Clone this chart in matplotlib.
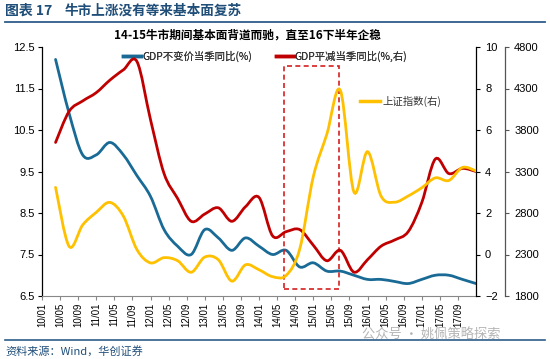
import numpy as np
import matplotlib
matplotlib.use("Agg")
import matplotlib.pyplot as plt
from matplotlib.path import Path
from matplotlib.patches import PathPatch, Rectangle
from matplotlib.lines import Line2D

plt.rcParams["font.family"] = ["Liberation Sans", "Noto Sans CJK SC", "DejaVu Sans"]
CJK = ["Noto Sans CJK SC", "DejaVu Sans"]

# ── data (quarter-end, months counted from 2010-01) ──────────────────────────
months = np.arange(3, 97, 3)
gdp_real = [12.2, 10.9, 9.9, 9.9, 10.2, 9.9, 9.4, 8.9,
            8.1, 7.7, 7.5, 8.1, 7.9, 7.6, 7.9, 7.7,
            7.5, 7.6, 7.2, 7.3, 7.1, 7.1, 7.0, 6.9,
            6.9, 6.85, 6.8, 6.9, 7.0, 7.0, 6.9, 6.8]
gdp_deflator = [5.4, 6.9, 7.4, 7.8, 8.4, 8.9, 9.3, 6.5,
                3.9, 2.7, 1.6, 1.95, 2.25, 1.6, 2.3, 2.75,
                0.9, 1.1, 1.2, 0.45, -0.3, 0.2, -0.85, -0.25,
                0.4, 0.7, 1.1, 2.5, 4.6, 3.9, 4.15, 4.0]
sse_index = [3109, 2398, 2656, 2808, 2928, 2762, 2359, 2199,
             2262, 2225, 2086, 2269, 2237, 1979, 2175, 2116,
             2033, 2048, 2364, 3235, 3748, 4277, 3053, 3539,
             3004, 2930, 3005, 3104, 3223, 3192, 3349, 3307]
tick_labels = [f"{y:02d}/{m:02d}" for y in range(10, 18) for m in (1, 5, 9)]

C_BLUE = "#1A6A96"
C_RED = "#C00000"
C_YEL = "#FFC000"
C_HEAD = "#1F4E79"


def smooth_path(x, y):
    # Excel-style smoothed line drawn as cubic Bezier segments
    x = np.asarray(x, float)
    y = np.asarray(y, float)
    p = np.column_stack([x, y])
    verts = [p[0]]
    codes = [Path.MOVETO]
    n = len(p)
    for i in range(n - 1):
        p0 = p[i - 1] if i > 0 else p[i]
        p3 = p[i + 2] if i + 2 < n else p[i + 1]
        c1 = p[i] + (p[i + 1] - p0) / 6.0
        c2 = p[i + 1] - (p3 - p[i]) / 6.0
        verts += [c1, c2, p[i + 1]]
        codes += [Path.CURVE4] * 3
    return Path(verts, codes)


fig = plt.figure(figsize=(5.5, 3.59), dpi=100)
ax = fig.add_axes([42 / 550, 1 - 296 / 359, 434 / 550, 249 / 359])
ax2 = ax.twinx()
ax3 = ax.twinx()
ax3.spines["right"].set_position(("axes", 1.067))

ax.add_patch(PathPatch(smooth_path(months, gdp_real), fill=False,
                       edgecolor=C_BLUE, lw=2.0, capstyle="round", zorder=3))
ax2.add_patch(PathPatch(smooth_path(months, gdp_deflator), fill=False,
                        edgecolor=C_RED, lw=2.0, capstyle="round", zorder=3))
ax3.add_patch(PathPatch(smooth_path(months, sse_index), fill=False,
                        edgecolor=C_YEL, lw=2.0, capstyle="round", zorder=3))

# highlight box for the 14-15 bull market
ax.add_patch(Rectangle((53.5, 6.67), 12.2, 5.38, fill=False,
                       edgecolor="#D42020", lw=1.2, ls=(0, (3, 2)), zorder=4))

ax.set_xlim(0, 96)
ax.set_ylim(6.5, 12.5)
ax2.set_ylim(-2, 10)
ax3.set_ylim(1800, 4800)
ax.set_xticks(np.arange(0, 96, 4))
ax.set_xticklabels(tick_labels, rotation=90, fontsize=7)
ax.set_yticks(np.arange(6.5, 12.6, 1.0))
ax.set_yticklabels([f"{v:.1f}" for v in np.arange(6.5, 12.6, 1.0)], fontsize=8)
ax2.set_yticks(np.arange(-2, 11, 2))
ax2.tick_params(axis="y", labelsize=8, length=3, width=0.8)
ax3.set_yticks(np.arange(1800, 4801, 500))
ax3.tick_params(axis="y", labelsize=8, length=3, width=0.8, color="#555555")

for a in (ax, ax2, ax3):
    a.spines["top"].set_visible(False)
ax.spines["left"].set_linewidth(0.9)
ax.spines["bottom"].set_color("#888888")
ax.spines["right"].set_visible(False)
ax2.spines["left"].set_visible(False)
ax2.spines["bottom"].set_visible(False)
ax2.spines["right"].set_linewidth(0.9)
ax3.spines["left"].set_visible(False)
ax3.spines["bottom"].set_visible(False)
ax3.spines["right"].set_color("#555555")
ax3.spines["right"].set_linewidth(0.9)
ax.tick_params(axis="y", length=3, width=0.8, pad=2)
ax.tick_params(axis="x", length=3, width=0.8, color="#888888", pad=2)

# legends
h_blue = Line2D([], [], color=C_BLUE, lw=2.5)
h_red = Line2D([], [], color=C_RED, lw=2.5)
h_yel = Line2D([], [], color=C_YEL, lw=2.5)
leg1 = ax.legend([h_blue, h_red], ["GDP不变价当季同比(%)", "GDP平减当季同比(%,右)"],
                 ncol=2, loc="center left", bbox_to_anchor=(118 / 550, 1 - 56 / 359),
                 bbox_transform=fig.transFigure, frameon=False,
                 prop={"family": CJK, "size": 7.5}, handlelength=1.7,
                 handletextpad=0.1, columnspacing=2.3, borderpad=0)
for t in leg1.get_texts():
    t.set_color("#333333")
ax.add_artist(leg1)
leg2 = ax2.legend([h_yel], ["上证指数(右)"], loc="center left",
                  bbox_to_anchor=(355 / 550, 1 - 101 / 359), bbox_transform=fig.transFigure,
                  frameon=False, prop={"family": CJK, "size": 7.5}, handlelength=1.9,
                  handletextpad=0.2, borderpad=0)
for t in leg2.get_texts():
    t.set_color("#333333")

# header / footer
fig.text(5 / 550, 1 - 11 / 359, "图表 17", family=CJK, fontsize=10,
         fontweight="bold", color=C_HEAD, va="center")
fig.text(65 / 550, 1 - 11 / 359, "牛市上涨没有等来基本面复苏", family=CJK, fontsize=9.8,
         fontweight="bold", color=C_HEAD, va="center")
fig.add_artist(Line2D([5 / 550, 545 / 550], [1 - 22 / 359] * 2,
                      transform=fig.transFigure, color="#2E5C8A", lw=1.3))
fig.text(247 / 550, 1 - 35 / 359, "14-15牛市期间基本面背道而驰，直至16下半年企稳",
         family=CJK, fontsize=8.4, fontweight="bold", color="black",
         ha="center", va="center")
fig.add_artist(Line2D([5 / 550, 545 / 550], [1 - 340 / 359] * 2,
                      transform=fig.transFigure, color="#2E5C8A", lw=1.2))
fig.text(5 / 550, 1 - 351 / 359, "资料来源：Wind，华创证券", family=CJK, fontsize=8,
         style="italic", color=C_HEAD, va="center")
fig.text(362 / 550, 1 - 335 / 359, "公众号 · 姚佩策略探索", family=CJK, fontsize=9.5,
         color="#B5B5B5", va="center", zorder=0)

fig.savefig("out.png", dpi=100)
